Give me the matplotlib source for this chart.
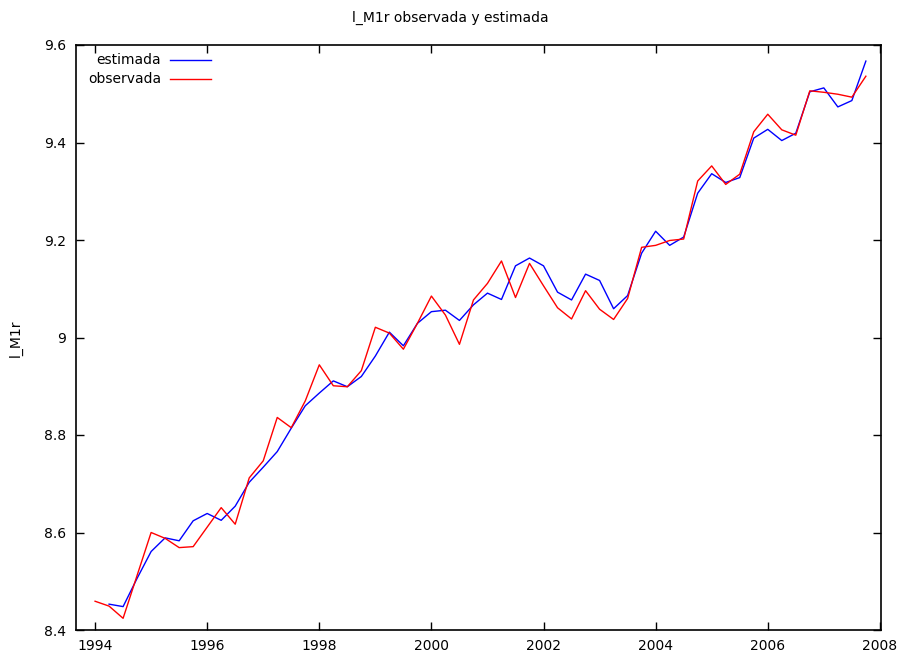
import numpy as np
import matplotlib
matplotlib.use("Agg")
import matplotlib.pyplot as plt
from matplotlib.lines import Line2D

# Quarterly series, 1994Q1 - 2007Q4
start_year = 1994.0
observada = [
    8.459, 8.449, 8.424, 8.512, 8.600, 8.588, 8.569, 8.571,
    8.611, 8.651, 8.617, 8.712, 8.747, 8.836, 8.815, 8.870,
    8.944, 8.901, 8.899, 8.932, 9.021, 9.009, 8.976, 9.029,
    9.085, 9.046, 8.986, 9.077, 9.111, 9.157, 9.082, 9.152,
    9.106, 9.061, 9.038, 9.096, 9.058, 9.037, 9.080, 9.185,
    9.189, 9.199, 9.202, 9.321, 9.352, 9.314, 9.335, 9.422,
    9.458, 9.426, 9.415, 9.506, 9.503, 9.499, 9.493, 9.536,
]
# Fitted values start one quarter later (1994Q2)
estimada = [
    8.453, 8.448, 8.506, 8.561, 8.589, 8.583, 8.624,
    8.639, 8.625, 8.654, 8.703, 8.734, 8.766, 8.814, 8.860,
    8.886, 8.911, 8.899, 8.920, 8.962, 9.011, 8.983, 9.029,
    9.053, 9.056, 9.035, 9.067, 9.091, 9.078, 9.147, 9.163,
    9.147, 9.093, 9.077, 9.130, 9.117, 9.059, 9.086, 9.173,
    9.218, 9.189, 9.206, 9.296, 9.336, 9.318, 9.328, 9.409,
    9.427, 9.404, 9.419, 9.504, 9.512, 9.473, 9.486, 9.567,
]
x_ticks = [1994, 1996, 1998, 2000, 2002, 2004, 2006, 2008]
y_ticks = [8.4, 8.6, 8.8, 9.0, 9.2, 9.4, 9.6]
y_tick_labels = ["8.4", "8.6", "8.8", "9", "9.2", "9.4", "9.6"]

t_obs = start_year + 0.25 * np.arange(len(observada))
t_est = start_year + 0.25 * (1 + np.arange(len(estimada)))

W, H = 901, 656
fig = plt.figure(figsize=(W / 100, H / 100), dpi=100)
left, right, top, bottom = 76, 881, 45, 630
ax = fig.add_axes([left / W, 1 - bottom / H, (right - left) / W, (bottom - top) / H])

ax.plot(t_est, estimada, color="#0000ff", lw=1.0)
ax.plot(t_obs, observada, color="#ff0000", lw=1.0)

ax.set_xlim(1993.66, 2008.02)
ax.set_ylim(8.4, 9.6)
ax.set_xticks(x_ticks)
ax.set_xticklabels([str(v) for v in x_ticks])
ax.set_yticks(y_ticks)
ax.set_yticklabels(y_tick_labels)
ax.tick_params(direction="in", length=6, width=1, top=True, right=True,
               labelsize=10, colors="black")
ax.tick_params(axis="x", pad=6.5)
ax.tick_params(axis="y", pad=7)
for s in ax.spines.values():
    s.set_linewidth(1.2)
    s.set_color("black")

# Key in the upper-left corner: right-aligned labels followed by line samples
rows = [("estimada", "#0000ff", 60), ("observada", "#ff0000", 79)]
for label, col, ypx in rows:
    yf = (bottom - ypx) / (bottom - top)
    ax.text((161 - left) / (right - left), yf, label, transform=ax.transAxes,
            ha="right", va="center", fontsize=10)
    ax.add_line(Line2D([(170 - left) / (right - left), (211 - left) / (right - left)],
                       [yf, yf], transform=ax.transAxes, color=col, lw=1.0))

fig.text(0.5, 1 - 18 / H, "l_M1r observada y estimada", ha="center", va="center",
         fontsize=10)
fig.text(16 / W, 1 - 338 / H, "l_M1r", rotation=90, ha="center", va="center",
         fontsize=10)

fig.savefig("out.png", dpi=100)
